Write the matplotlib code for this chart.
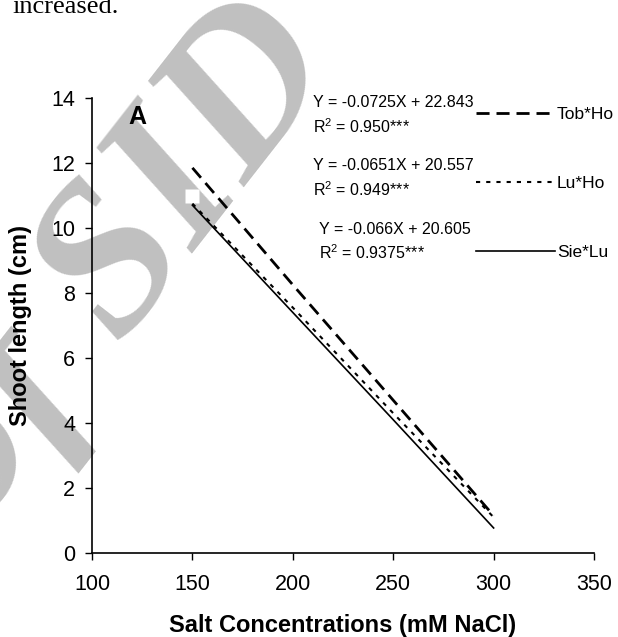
import matplotlib
matplotlib.use("Agg")
import matplotlib.pyplot as plt

plt.rcParams["font.family"] = ["Liberation Sans", "DejaVu Sans"]
plt.rcParams["mathtext.fontset"] = "custom"
plt.rcParams["mathtext.rm"] = "Liberation Sans"

# salt levels (mM NaCl) and shoot length (cm)
salt = [150, 200, 250, 300]
tob_ho = [11.85, 8.25, 4.7, 1.15]
lu_ho = [10.75, 7.55, 4.3, 1.1]
sie_lu = [10.7, 7.4, 4.1, 0.77]
hidden_x = [150]
hidden_y = [10.97]

eqs = [
    ("Y = -0.0725X + 22.843", "R$^{2}$ = 0.950***"),
    ("Y = -0.0651X + 20.557", "R$^{2}$ = 0.949***"),
    ("Y = -0.066X + 20.605", "R$^{2}$ = 0.9375***"),
]

fig = plt.figure(figsize=(6.18, 6.37), dpi=100)

# watermark and page text behind the axes
fig.text(0.19, 0.585, "of SID", fontsize=155, family="Liberation Serif", style="italic",
         fontweight="bold", color="#c0c0c0", rotation=52, ha="center", va="center",
         zorder=-1)
fig.text(0.02, 0.98, "increased.", fontsize=19, family="Liberation Serif",
         ha="left", va="baseline")

ax = fig.add_axes([0.1489, 0.1319, 0.8123, 0.7143])
ax.patch.set_alpha(0)

ax.plot(salt, tob_ho, color="black", lw=2.0, dashes=(4.7, 2.5), label="Tob*Ho")
ax.plot(salt, lu_ho, color="black", lw=1.5, dashes=(2.0, 2.9), label="Lu*Ho")
ax.plot(salt, sie_lu, color="black", lw=1.2, label="Sie*Lu")
ax.plot(hidden_x, hidden_y, "s", ms=10, mfc="white", mec="none", zorder=1)

ax.set_xlim(100, 350)
ax.set_ylim(0, 14)
ax.set_xticks([100, 150, 200, 250, 300, 350])
ax.set_yticks([0, 2, 4, 6, 8, 10, 12, 14])
for s in ["top", "right"]:
    ax.spines[s].set_visible(False)
for s in ["left", "bottom"]:
    ax.spines[s].set_linewidth(1.2)
ax.tick_params(axis="both", labelsize=15.5, length=5, width=1.0, direction="out")
ax.tick_params(axis="x", pad=10)
ax.tick_params(axis="y", pad=7)

ax.set_xlabel("Salt Concentrations (mM NaCl)", fontsize=17, fontweight="bold", labelpad=14)
ax.set_ylabel("Shoot length (cm)", fontsize=17, fontweight="bold", labelpad=14)

ax.text(122.4, 13.4, "A", fontsize=18, fontweight="bold", ha="center", va="center")

eq_pos = [(0.440, 0.991, 0.936), (0.440, 0.851, 0.798), (0.452, 0.710, 0.659)]
for (e1, e2), (x, y1, y2) in zip(eqs, eq_pos):
    ax.text(x, y1, e1, transform=ax.transAxes, fontsize=11.5, va="center", ha="left")
    ax.text(x, y2, e2, transform=ax.transAxes, fontsize=11.5, va="center", ha="left")

ax.legend(loc="upper left", bbox_to_anchor=(0.765, 0.981), frameon=False, fontsize=12.5,
          handlelength=4.55, handletextpad=0.1, labelspacing=3.11, borderpad=0,
          borderaxespad=0)

fig.savefig("out.png", dpi=100)
